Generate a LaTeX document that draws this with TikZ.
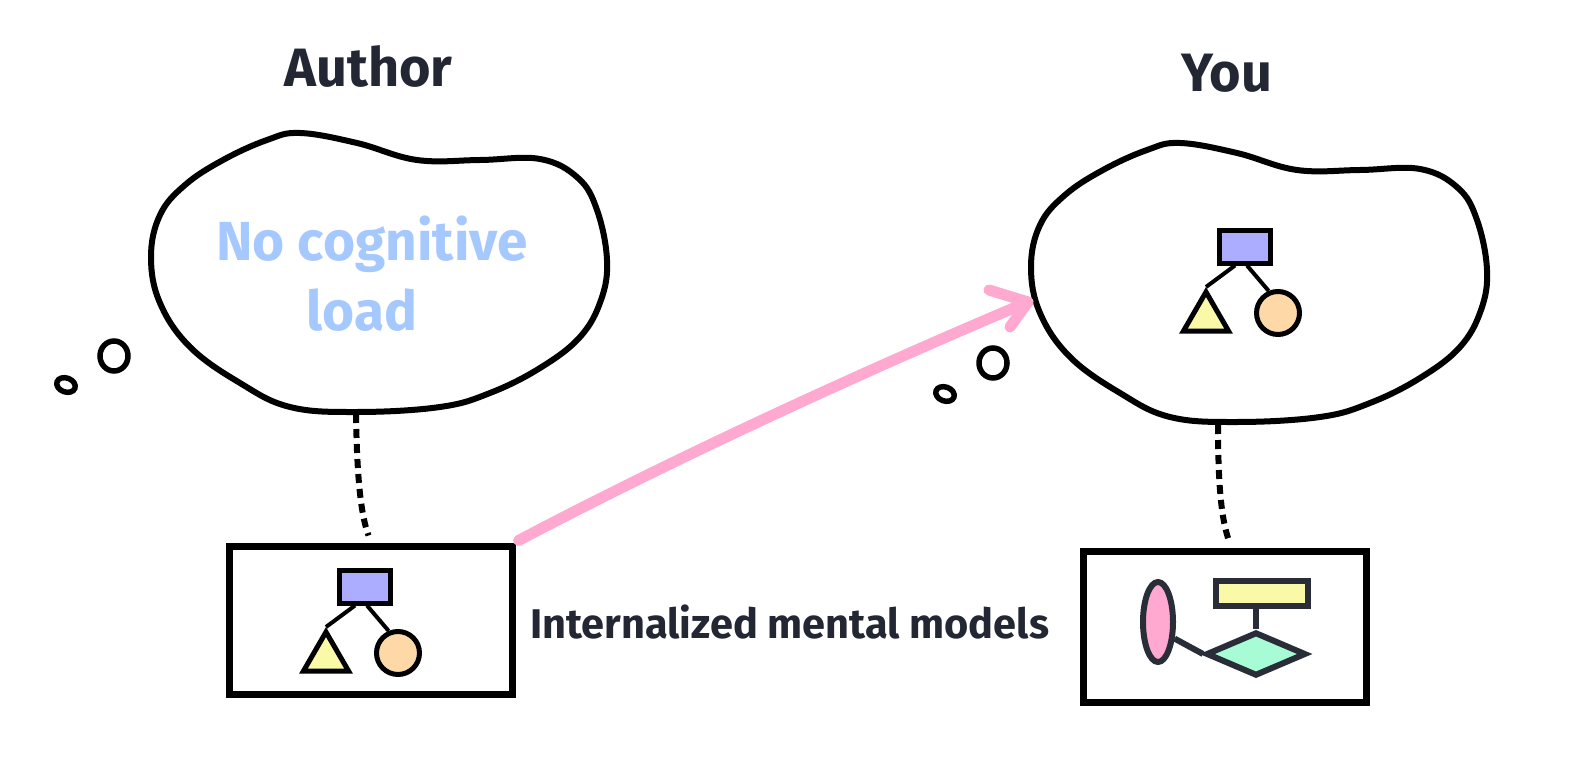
\documentclass[tikz,border=0pt]{standalone}
\usepackage{fontspec}
\setmainfont{Fira Sans}
\usetikzlibrary{shapes.geometric,calc}
\definecolor{titlecol}{HTML}{232733}
\definecolor{lblue}{HTML}{A5C8FF}
\definecolor{purplec}{HTML}{ADADFF}
\definecolor{yellowc}{HTML}{F9F9A8}
\definecolor{orangec}{HTML}{FFD8A8}
\definecolor{pinkc}{HTML}{FFA9D1}
\definecolor{mintc}{HTML}{A7FCD6}
\definecolor{arrowpink}{HTML}{FFA8D0}
\definecolor{slate}{HTML}{282D38}
\newcommand\cloudpath{plot[smooth cycle, tension=0.65] coordinates{
 (300,133) (357,143) (417,160) (480,160) (540,159) (578,178) (597,210)
 (607,260) (601,300) (580,337) (540,368) (490,393) (440,407) (357,412)
 (290,407) (240,383) (190,347) (160,303) (151,257) (160,215) (185,185)
 (223,160) (267,140)}}
\newcommand\minitree[3]{%
  \node[treebox] (#1r) at (#2+27.5,#3+18.5) {};
  \node[treetri] (#1t) at (#2-11,#3+90) {};
  \node[treecirc] (#1c) at (#2+61,#3+85) {};
  \draw[treeline] ($(#1r.south)+(-9.5,0)$) -- (#1t.corner 1);
  \draw[treeline] ($(#1r.south)+(2.5,0)$) -- (#1c.113);
}
\begin{document}
\begin{tikzpicture}[x=1pt,y=-1pt,
  cloudline/.style={draw=black,line width=6pt},
  bubble/.style={draw=black,line width=5.5pt},
  framebox/.style={draw=black,line width=7pt,rectangle,inner sep=0pt},
  treebox/.style={rectangle,draw=black,line width=5pt,fill=purplec,minimum width=51pt,minimum height=33pt,inner sep=0pt},
  treetri/.style={regular polygon,regular polygon sides=3,draw=black,line width=5pt,fill=yellowc,minimum size=52pt,inner sep=0pt},
  treecirc/.style={circle,draw=black,line width=5pt,fill=orangec,minimum size=43pt,inner sep=0pt},
  treeline/.style={draw=black,line width=4pt},
  darkshape/.style={draw=slate,line width=6pt,inner sep=0pt},
  darkline/.style={draw=slate,line width=6pt},
  dotline/.style={draw=black,line width=6pt,dash pattern=on 9pt off 6pt},
  pinkstroke/.style={draw=arrowpink,line width=11pt,line cap=round,line join=round},
  titletext/.style={font=\fontsize{54}{60}\selectfont\bfseries,text=titlecol,inner sep=0pt},
  bluetext/.style={font=\fontsize{55}{66}\selectfont\bfseries,text=lblue,inner sep=0pt},
  labeltext/.style={font=\fontsize{41.5}{48}\selectfont\bfseries,text=titlecol,inner sep=0pt}
]
\useasboundingbox (0,0) rectangle (1579,762);
\fill[white] (0,0) rectangle (1579,762);

% titles
\node[titletext,anchor=base] (author) at (368.5,87) {Author};
\node[titletext,anchor=base] (you) at (1226.5,92) {You};

% clouds
\draw[cloudline] \cloudpath;
\begin{scope}[shift={(880,10)}]
  \draw[cloudline] \cloudpath;
\end{scope}
\coordinate (lcb) at (356,414);
\coordinate (rcb) at (1218,425);

% cloud text
\node[bluetext,anchor=base] (nocog) at (372,260) {No cognitive};
\node[bluetext,anchor=base] (load) at (362,330) {load};

% thought bubbles
\draw[bubble] (114,356) ellipse[x radius=14pt,y radius=15pt];
\draw[bubble,rotate around={-20:(66,385)}] (66,385) ellipse[x radius=9.5pt,y radius=7pt];
\draw[bubble] (993,363) ellipse[x radius=14pt,y radius=15pt];
\draw[bubble,rotate around={-20:(945,394)}] (945,394) ellipse[x radius=9.5pt,y radius=7pt];

% boxes
\node[framebox,minimum width=283pt,minimum height=148pt] (lbox) at (370.5,620) {};
\node[framebox,minimum width=283pt,minimum height=151pt] (rbox) at (1224.5,626.5) {};

% trees
\minitree{a}{337}{568}
\minitree{b}{1217}{228}

% right box model
\node[ellipse,darkshape,fill=pinkc,minimum width=30pt,minimum height=80pt] (pe) at (1158,622) {};
\node[rectangle,darkshape,fill=yellowc,minimum width=92pt,minimum height=25pt] (yr) at (1261.5,593) {};
\node[diamond,darkshape,fill=mintc,minimum width=100pt,minimum height=44pt] (dm) at (1256,654) {};
\draw[darkline] (dm.north |- yr.south) -- (dm.north);
\draw[darkline] (pe.-45) -- (dm.west);

% dotted links
\draw[dotline] (lcb) .. controls (357,480) and (361,515) .. ($(lbox.north)+(-2,-7)$);
\draw[dotline] (rcb) .. controls (1218,490) and (1222,520) .. ($(rbox.north)+(4,-8)$);

% label
\node[labeltext,anchor=base west] (lbl) at (530,638) {Internalized mental models};

% pink arrow
\coordinate (tip) at (1028,302);
\draw[pinkstroke] ($(lbox.north east)+(3,-2)$) .. controls (690,450) and (890,360) .. (tip);
\draw[pinkstroke] (tip) -- (989,290);
\draw[pinkstroke] (tip) -- (1010,327);
\end{tikzpicture}
\end{document}
